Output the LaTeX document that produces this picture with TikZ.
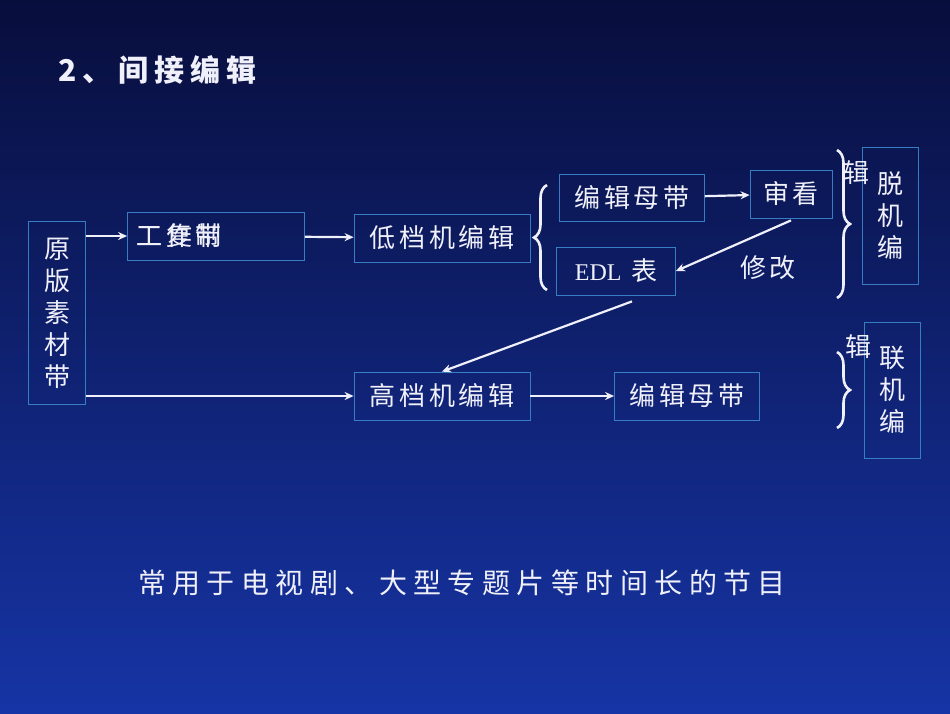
\documentclass[tikz,border=0pt]{standalone}
\usepackage{fontspec}
\setmainfont{Liberation Serif}
\newfontfamily\cjk{Noto Sans CJK SC}
\usetikzlibrary{positioning,calc,decorations.pathreplacing,arrows.meta}

\definecolor{bgtop}{RGB}{8,14,60}
\definecolor{bgbot}{RGB}{22,52,165}
\definecolor{edge}{RGB}{55,125,195}
\definecolor{ink}{RGB}{240,240,250}

\begin{document}
\begin{tikzpicture}[
    x=1pt, y=-1pt,
    font=\cjk\fontsize{26}{28}\selectfont\addfontfeature{LetterSpace=14},
    box/.style={draw=edge, line width=0.8pt, text=ink, inner sep=0pt},
    col/.style={box, align=center, font=\cjk\fontsize{26}{32}\selectfont},
    arr/.style={-{Stealth[length=9pt,width=8pt]}, draw=ink, line width=2.2pt},
    brace/.style={draw=ink, line width=2.6pt, decorate, decoration={brace, amplitude=13pt}}
]
\shade[top color=bgtop, bottom color=bgbot] (0,0) rectangle (950,713);
\useasboundingbox (0,0) rectangle (950,713);

% Title
\node (title) [anchor=west, text=ink, font=\cjk\bfseries\fontsize{30}{34}\selectfont\addfontfeature{LetterSpace=20}] at (55,70) {2、间接编辑};

% Source tape
\node (src) [col, minimum width=57pt, minimum height=183pt] at (57,313) {原\\版\\素\\材\\带};

% Upper route
\node (work) [box, minimum width=177pt, minimum height=48pt] at (216,236) {};
\node (worka) [text=ink, anchor=west] at (133,236) {工作带};
\node (workb) [text=ink, anchor=west] at (133,236) {工复制};
\node (low) [box, minimum width=176pt, minimum height=48pt] at (442,238) {低档机编辑};
\node (mastera) [box, minimum width=145pt, minimum height=47pt] at (632,198) {编辑母带};
\node (review) [box, minimum width=82pt, minimum height=48pt] at (791,194) {审看};
\node (edl) [box, minimum width=119pt, minimum height=48pt] at (616,271) {{\fontsize{24}{26}\selectfont\rmfamily EDL} 表};
\node (fix) [text=ink] at (768,268) {修改};
\node (offl) [col, minimum width=56pt, minimum height=137pt] at (890,216) {脱\\机\\编};
\node (offj) [text=ink] at (856,173) {辑};

% Lower route
\node (high) [box, minimum width=176pt, minimum height=48pt] at (442,396) {高档机编辑};
\node (masterb) [box, minimum width=145pt, minimum height=48pt] at (687,396) {编辑母带};
\node (onl) [col, minimum width=56pt, minimum height=136pt] at (892,390) {联\\机\\编};
\node (onj) [text=ink] at (858,347) {辑};

% Braces
\draw[brace] (547,290) -- (547,185);
\draw[brace] (837,150) -- (837,298);
\draw[brace] (837,352) -- (837,428);

% Connectors
\draw[arr] (src.east |- work) -- (work);
\draw[arr] (work) -- (low);
\draw[arr] (mastera) -- (review);
\draw[arr] (review.south) ++(0,2) -- (edl.east);
\draw[arr] ($(edl.south)+(16,6)$) -- (high.north);
\draw[arr] (src.east |- high) -- (high);
\draw[arr] (high) -- (masterb);

% Caption
\node (note) [text=ink, font=\cjk\fontsize{28}{30}\selectfont\addfontfeature{LetterSpace=23}] at (462,583) {常用于电视剧、大型专题片等时间长的节目};
\end{tikzpicture}
\end{document}
